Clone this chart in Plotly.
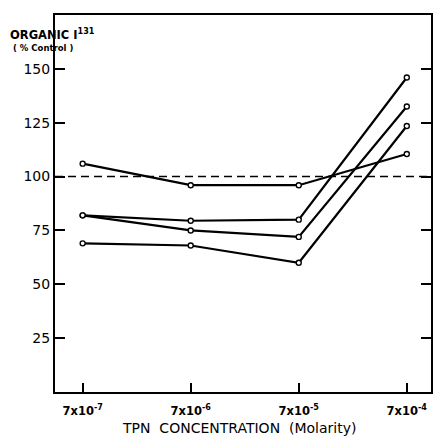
import math
import plotly.graph_objects as go

# TPN concentrations (molar) and tick labels
concentrations = [7e-7, 7e-6, 7e-5, 7e-4]
tick_labels = ["7x10<sup>-7</sup>", "7x10<sup>-6</sup>", "7x10<sup>-5</sup>", "7x10<sup>-4</sup>"]

# Organic I-131 as % of control, one list per experiment
series_a = [106, 96, 96, 110.5]
series_b = [82, 79.5, 80, 146]
series_c = [82, 75, 72, 132.5]
series_d = [69, 68, 60, 123.5]
control_level = 100
y_ticks = [25, 50, 75, 100, 125, 150]

fig = go.Figure()
for ys in (series_a, series_b, series_c, series_d):
    fig.add_trace(go.Scatter(
        x=concentrations, y=ys, mode="lines+markers",
        line=dict(color="black", width=2.2),
        marker=dict(symbol="circle", size=5, color="white",
                    line=dict(color="black", width=1.4)),
        showlegend=False, cliponaxis=False,
    ))

# dashed control reference line
fig.add_shape(type="line", xref="paper", yref="y", x0=0, x1=1,
              y0=control_level, y1=control_level,
              line=dict(color="black", width=1.6, dash="8px,5px"), layer="below")

lo = math.log10(concentrations[0]) - 0.256
hi = math.log10(concentrations[-1]) + 0.224

fig.update_xaxes(
    type="log", range=[lo, hi],
    tickvals=concentrations, ticktext=tick_labels,
    ticks="inside", ticklen=9, tickwidth=1.6, tickcolor="black",
    showline=True, linecolor="black", linewidth=2, mirror=True,
    showgrid=False, zeroline=False,
    tickfont=dict(family="DejaVu Sans", size=11.5, color="black", weight="bold"),
    ticklabelstandoff=7,
)
fig.update_yaxes(
    range=[0, 175], tickvals=y_ticks,
    ticks="inside", ticklen=10, tickwidth=1.6, tickcolor="black",
    showline=True, linecolor="black", linewidth=2, mirror="ticks",
    showgrid=False, zeroline=False,
    tickfont=dict(family="DejaVu Sans", size=14, color="black"),
)

fig.add_annotation(text="<b>ORGANIC I<sup>131</sup></b>", xref="paper", yref="paper",
                   x=-0.126, y=0.947, xanchor="left", yanchor="middle", showarrow=False,
                   font=dict(family="DejaVu Sans", size=11.5, color="black"))
fig.add_annotation(text="<b>( % Control )</b>", xref="paper", yref="paper",
                   x=-0.116, y=0.913, xanchor="left", yanchor="middle", showarrow=False,
                   font=dict(family="DejaVu Sans", size=8.5, color="black"))
fig.add_annotation(text="TPN  CONCENTRATION  (Molarity)", xref="paper", yref="paper",
                   x=0.49, y=-0.096, xanchor="center", yanchor="middle", showarrow=False,
                   font=dict(family="DejaVu Sans", size=14, color="black"))

fig.update_layout(
    width=434, height=438,
    margin=dict(l=55, r=1, t=15, b=46),
    paper_bgcolor="white", plot_bgcolor="white",
)

fig.write_html("out.html")
